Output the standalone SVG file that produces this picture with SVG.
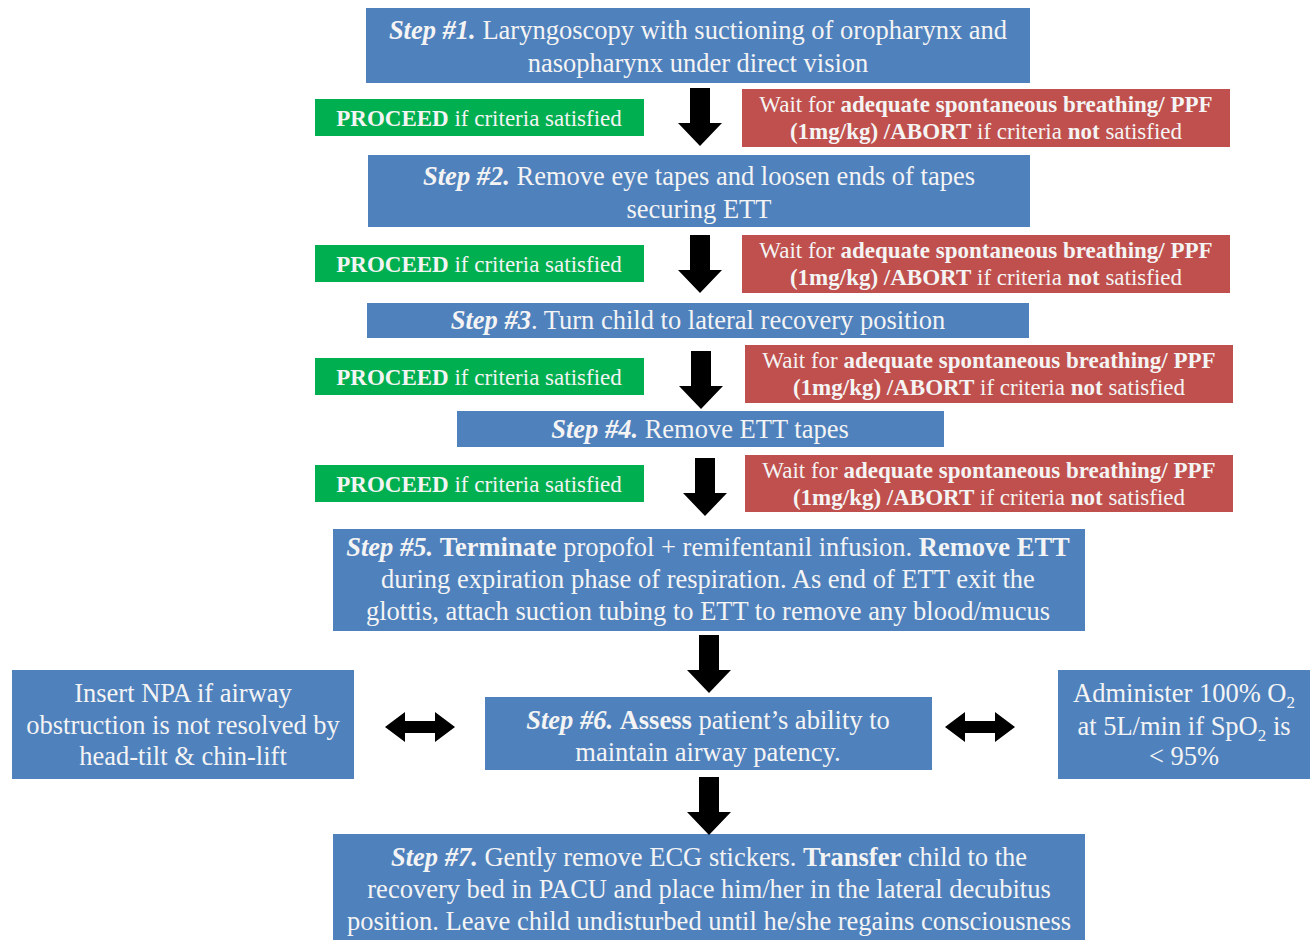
<svg xmlns="http://www.w3.org/2000/svg" xmlns:xlink="http://www.w3.org/1999/xlink" width="1315" height="940" viewBox="0 0 1315 940" font-family="'Liberation Serif', Tinos, 'DejaVu Serif', serif">
<style>
.blue{fill:#4F81BD}
.green{fill:#00B050}
.red{fill:#C0504D}
text{font-family:'Liberation Serif', Tinos, 'DejaVu Serif', serif;fill:#F4F4F4;text-anchor:middle}
.s{font-size:26.5px}
.g{font-size:23px}
.b{font-weight:bold}
.i{font-style:italic;font-weight:bold}
.arr{fill:#000}
</style>
<defs>
<path id="down" d="M-10,0 H10 V35 H22 L0,58 L-22,35 H-10 Z"/>
<path id="dbl" d="M0,0 L20,-15 V-6 H50 V-15 L70,0 L50,15 V6 H20 V15 Z"/>
</defs>
<rect width="1315" height="940" fill="#fff"/>

<g id="step1">
<rect class="blue" x="366" y="8" width="664" height="75"/>
<text class="s" x="698" y="39"><tspan class="i">Step #1.</tspan> Laryngoscopy with suctioning of oropharynx and</text>
<text class="s" x="698" y="72">nasopharynx under direct vision</text>
</g>
<g id="proceed1">
<rect class="green" x="315" y="99" width="329" height="37"/>
<text class="g" x="479" y="126"><tspan class="b">PROCEED</tspan> if criteria satisfied</text>
</g>
<g id="wait1">
<rect class="red" x="742" y="89" width="488" height="58"/>
<text class="g" x="986" y="112">Wait for <tspan class="b">adequate spontaneous breathing/ PPF</tspan></text>
<text class="g" x="986" y="139"><tspan class="b">(1mg/kg) /ABORT</tspan> if criteria <tspan class="b">not</tspan> satisfied</text>
</g>

<g id="step2">
<rect class="blue" x="368" y="155" width="662" height="72"/>
<text class="s" x="699" y="185"><tspan class="i">Step #2.</tspan> Remove eye tapes and loosen ends of tapes</text>
<text class="s" x="699" y="218">securing ETT</text>
</g>
<g id="proceed2">
<rect class="green" x="315" y="245" width="329" height="37"/>
<text class="g" x="479" y="272"><tspan class="b">PROCEED</tspan> if criteria satisfied</text>
</g>
<g id="wait2">
<rect class="red" x="742" y="235" width="488" height="58"/>
<text class="g" x="986" y="258">Wait for <tspan class="b">adequate spontaneous breathing/ PPF</tspan></text>
<text class="g" x="986" y="285"><tspan class="b">(1mg/kg) /ABORT</tspan> if criteria <tspan class="b">not</tspan> satisfied</text>
</g>

<g id="step3">
<rect class="blue" x="367" y="303" width="662" height="35"/>
<text class="s" x="698" y="329"><tspan class="i">Step #3</tspan>. Turn child to lateral recovery position</text>
</g>
<g id="proceed3">
<rect class="green" x="315" y="358" width="329" height="37"/>
<text class="g" x="479" y="385"><tspan class="b">PROCEED</tspan> if criteria satisfied</text>
</g>
<g id="wait3">
<rect class="red" x="745" y="345" width="488" height="58"/>
<text class="g" x="989" y="368">Wait for <tspan class="b">adequate spontaneous breathing/ PPF</tspan></text>
<text class="g" x="989" y="395"><tspan class="b">(1mg/kg) /ABORT</tspan> if criteria <tspan class="b">not</tspan> satisfied</text>
</g>

<g id="step4">
<rect class="blue" x="457" y="411" width="487" height="36"/>
<text class="s" x="700" y="438"><tspan class="i">Step #4.</tspan> Remove ETT tapes</text>
</g>
<g id="proceed4">
<rect class="green" x="315" y="465" width="329" height="37"/>
<text class="g" x="479" y="492"><tspan class="b">PROCEED</tspan> if criteria satisfied</text>
</g>
<g id="wait4">
<rect class="red" x="745" y="455" width="488" height="57"/>
<text class="g" x="989" y="478">Wait for <tspan class="b">adequate spontaneous breathing/ PPF</tspan></text>
<text class="g" x="989" y="505"><tspan class="b">(1mg/kg) /ABORT</tspan> if criteria <tspan class="b">not</tspan> satisfied</text>
</g>

<g id="step5">
<rect class="blue" x="333" y="529" width="752" height="102"/>
<text class="s" x="708" y="556"><tspan class="i">Step #5.</tspan> <tspan class="b">Terminate</tspan> propofol + remifentanil infusion. <tspan class="b">Remove ETT</tspan></text>
<text class="s" x="708" y="588">during expiration phase of respiration. As end of ETT exit the</text>
<text class="s" x="708" y="620">glottis, attach suction tubing to ETT to remove any blood/mucus</text>
</g>

<g id="npa">
<rect class="blue" x="12" y="670" width="342" height="109"/>
<text class="s" x="183" y="702">Insert NPA if airway</text>
<text class="s" x="183" y="734">obstruction is not resolved by</text>
<text class="s" x="183" y="765">head-tilt &amp; chin-lift</text>
</g>

<g id="step6">
<rect class="blue" x="485" y="697" width="447" height="73"/>
<text class="s" x="708" y="729"><tspan class="i">Step #6.</tspan> <tspan class="b">Assess</tspan> patient’s ability to</text>
<text class="s" x="708" y="761">maintain airway patency.</text>
</g>

<g id="oxygen">
<rect class="blue" x="1058" y="670" width="252" height="109"/>
<text class="s" x="1184" y="702">Administer 100% O<tspan font-size="17" dy="6">2</tspan></text>
<text class="s" x="1184" y="735">at 5L/min if SpO<tspan font-size="17" dy="6">2</tspan><tspan dy="-6"> is</tspan></text>
<text class="s" x="1184" y="765">&lt; 95%</text>
</g>

<g id="step7">
<rect class="blue" x="333" y="834" width="752" height="106"/>
<text class="s" x="709" y="866"><tspan class="i">Step #7.</tspan> Gently remove ECG stickers. <tspan class="b">Transfer</tspan> child to the</text>
<text class="s" x="709" y="898">recovery bed in PACU and place him/her in the lateral decubitus</text>
<text class="s" x="709" y="930">position. Leave child undisturbed until he/she regains consciousness</text>
</g>

<g id="connectors" class="arr">
<use xlink:href="#down" x="700" y="88"/>
<use xlink:href="#down" x="700" y="235"/>
<use xlink:href="#down" x="701" y="351"/>
<use xlink:href="#down" x="705" y="458"/>
<use xlink:href="#down" x="709" y="635"/>
<use xlink:href="#down" x="709" y="777"/>
<use xlink:href="#dbl" x="385" y="727"/>
<use xlink:href="#dbl" x="945" y="727"/>
</g>
</svg>
